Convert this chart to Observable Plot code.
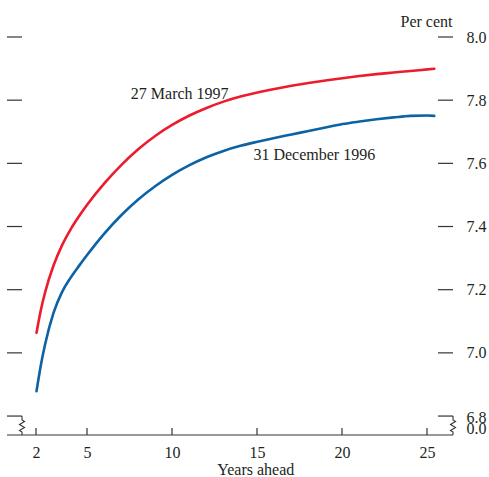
<!DOCTYPE html>
<html>
<head>
<meta charset="utf-8">
<script src="https://cdn.jsdelivr.net/npm/d3@7"></script>
<script src="https://cdn.jsdelivr.net/npm/@observablehq/plot@0.6"></script>
<style>
  html, body { margin: 0; padding: 0; background: #fff; }
  #chart svg { display: block; }
</style>
</head>
<body>
<div id="chart"></div>
<script>
// Years to maturity
const years = [2, 2.25, 2.5, 3, 3.5, 4, 4.5, 5, 6, 7, 8, 9, 10, 11, 12, 13, 14, 15, 16, 17, 18, 19, 20, 21, 22, 23, 24, 25, 25.4];
// Implied forward rate curve, 27 March 1997 (per cent)
const march1997 = [7.065, 7.136, 7.192, 7.278, 7.342, 7.392, 7.434, 7.472, 7.539, 7.597, 7.647, 7.689, 7.724, 7.753, 7.777, 7.797, 7.813, 7.826, 7.837, 7.847, 7.856, 7.864, 7.871, 7.878, 7.884, 7.889, 7.894, 7.899, 7.901];
// Implied forward rate curve, 31 December 1996 (per cent)
const december1996 = [6.88, 6.961, 7.027, 7.128, 7.194, 7.239, 7.277, 7.313, 7.38, 7.438, 7.488, 7.53, 7.566, 7.596, 7.621, 7.641, 7.657, 7.67, 7.682, 7.693, 7.704, 7.715, 7.726, 7.734, 7.741, 7.747, 7.752, 7.753, 7.752];

const seriesNames = ["27 March 1997", "31 December 1996"];
const xTicks = [2, 5, 10, 15, 20, 25];
const yTicks = [6.8, 7.0, 7.2, 7.4, 7.6, 7.8, 8.0];
const yBase = 6.74;   // the broken axis floor, labelled 0.0

const rows = [
  ...years.map((t, i) => ({year: t, rate: march1997[i], series: seriesNames[0]})),
  ...years.map((t, i) => ({year: t, rate: december1996[i], series: seriesNames[1]}))
];

const ink = "#231f20";
const font = "Liberation Serif, Times New Roman, serif";
const fmt = d3.format(".1f");

const plot = Plot.plot({
  width: 489,
  height: 477,
  marginLeft: 7,
  marginRight: 36,
  marginTop: 37,
  marginBottom: 42,
  style: {fontFamily: font, fontSize: "16px", color: ink, background: "#fff", overflow: "visible"},
  x: {domain: [0.294, 26.53], axis: null},
  y: {domain: [yBase, 8.0], axis: null},
  color: {domain: seriesNames, range: ["#ec1c2e", "#0b62a4"]},
  marks: [
    Plot.axisY({anchor: "right", ticks: yTicks.slice(1), tickSize: 0, tickPadding: 13, tickFormat: fmt, label: null, fill: ink}),
    Plot.text([yTicks[0]], {y: d => d, frameAnchor: "right", dx: 13, dy: 1, text: fmt, textAnchor: "start", fill: ink}),
    Plot.text(["0.0"], {frameAnchor: "bottom-right", dx: 13, dy: -1.5, textAnchor: "start", fill: ink}),
    Plot.axisX({ticks: xTicks, tickSize: 0, tickPadding: 11, tickFormat: d => String(d), label: null, fill: ink}),
    Plot.text(["Per cent"], {frameAnchor: "top-right", dx: -1, dy: -11, textAnchor: "end", lineAnchor: "bottom", fill: ink}),
    Plot.text(["Years ahead"], {x: 14.9, frameAnchor: "bottom", dy: 39, lineAnchor: "bottom", fill: ink}),
    Plot.line(rows, {x: "year", y: "rate", z: "series", stroke: "series", strokeWidth: 2.6, curve: "monotone-x"}),
    Plot.text([seriesNames[0]], {x: 7.55, y: 7.806, textAnchor: "start", lineAnchor: "bottom", fill: ink}),
    Plot.text([seriesNames[1]], {x: 14.76, y: 7.613, textAnchor: "start", lineAnchor: "bottom", fill: ink})
  ]
});

// Frame furniture: side tick dashes, bottom axis line with ticks, and axis-break zigzags
const sx = plot.scale("x"), sy = plot.scale("y");
const svg = d3.select(plot);
const g = svg.append("g").attr("fill", "none").attr("stroke", "#333").attr("stroke-width", 1.2);
const L = sx.apply(sx.domain[0]), R = sx.apply(sx.domain[1]);
const base = sy.apply(yBase);
for (const t of yTicks) {
  const yy = sy.apply(t);
  g.append("line").attr("x1", L).attr("x2", L + 15).attr("y1", yy).attr("y2", yy);
  g.append("line").attr("x1", R - 15).attr("x2", R).attr("y1", yy).attr("y2", yy);
}
g.append("line").attr("x1", L).attr("x2", R).attr("y1", base).attr("y2", base);
for (const t of xTicks) {
  const xx = sx.apply(t);
  g.append("line").attr("x1", xx).attr("x2", xx).attr("y1", base).attr("y2", base - 7);
}
const breakTop = sy.apply(6.8);
const zig = x0 => `M${x0},${breakTop}V${breakTop + 4}l2.5,1.5l-5,3l5,3l-5,3l2.5,1.5V${base}`;
g.append("path").attr("d", zig(L + 15)).attr("stroke-width", 1.1);
g.append("path").attr("d", zig(R)).attr("stroke-width", 1.1);

document.getElementById("chart").append(plot);
</script>
</body>
</html>
